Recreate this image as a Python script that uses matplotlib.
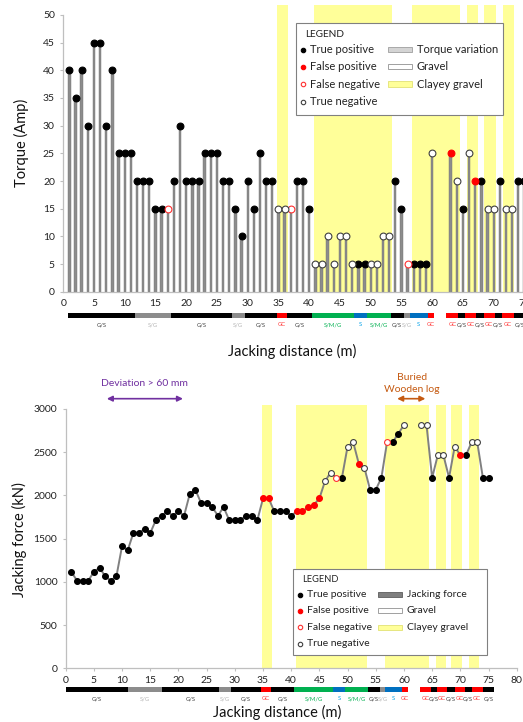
import numpy as np
import matplotlib
matplotlib.use('Agg')
import matplotlib.pyplot as plt
from matplotlib.lines import Line2D
from matplotlib.patches import Rectangle

plt.rcParams['font.family'] = ['Lato', 'DejaVu Sans']

W, H = 523, 722

# ---- data ----
dist_x = list(range(1, 61)) + list(range(63, 76))

torque = [40, 35, 40, 30, 45, 45, 30, 40, 25, 25,
          25, 20, 20, 20, 15, 15, 15, 20, 30, 20,
          20, 20, 25, 25, 25, 20, 20, 15, 10, 20,
          15, 25, 20, 20, 15, 15, 15, 20, 20, 15,
          5, 5, 10, 5, 10, 10, 5, 5, 5, 5,
          5, 10, 10, 20, 15, 5, 5, 5, 5, 25,
          25, 20, 15, 25, 20, 20, 15, 15, 20, 15,
          15, 20, 20]
# T = true positive, F = false positive, N = false negative, W = true negative
torque_cls = ("TTTTTTTTTT" "TTTTTTNTTT" "TTTTTTTTTT" "TTTTWWNTTT"
              "WWWWWWWTTW" "WWWTTNTTTW" "FWTWFTWWTW" "WTT")

force = [1115, 1015, 1015, 1015, 1115, 1165, 1065, 1015, 1065, 1415,
         1365, 1565, 1565, 1615, 1565, 1715, 1765, 1815, 1765, 1815,
         1765, 2015, 2065, 1915, 1915, 1865, 1765, 1865, 1715, 1715,
         1715, 1765, 1765, 1715, 1965, 1965, 1815, 1815, 1815, 1765,
         1815, 1815, 1865, 1890, 1965, 2165, 2265, 2205, 2205, 2565,
         2615, 2365, 2315, 2065, 2065, 2205, 2615, 2615, 2715, 2815,
         2815, 2815, 2205, 2465, 2465, 2205, 2565, 2465, 2465, 2615,
         2615, 2205, 2205]
force_cls = ("TTTTTTTTTT" "TTTTTTTTTT" "TTTTTTTTTT" "TTTTFFTTTT"
             "FFFFFWWNTW" "WFWTTTNTTW" "WWTWWTWFTW" "WTT")

clay_start = [34.8, 40.8, 56.7, 65.6, 68.4, 71.5]
clay_end = [36.6, 53.4, 64.5, 67.4, 70.3, 73.3]

soil_type = ['G/S', 'S/G', 'G/S', 'S/G', 'G/S', 'GC', 'G/S', 'S/M/G', 'S', 'S/M/G',
             'G/S', 'S/G', 'S', 'GC', 'GC', 'G/S', 'GC', 'G/S', 'GC', 'G/S', 'GC', 'G/S']
soil_start = [0, 11.0, 17.05, 27.2, 29.3, 34.6, 36.4, 40.55, 47.5, 49.6,
              53.6, 55.7, 56.7, 59.7, 62.8, 64.8, 65.9, 67.7, 69.0, 70.8, 72.0, 74.0]
soil_end = [11.0, 17.05, 27.2, 29.3, 34.6, 36.4, 40.55, 47.5, 49.6, 53.6,
            55.7, 56.7, 59.7, 60.7, 64.8, 65.9, 67.7, 69.0, 70.8, 72.0, 74.0, 75.95]

soil_bar_col = {'G/S': '#000000', 'S/G': '#8c8c8c', 'GC': '#ff0000',
                'S/M/G': '#00b050', 'S': '#0070c0'}
soil_txt_col = {'G/S': '#404040', 'S/G': '#b4b4b4', 'GC': '#ff3b3b',
                'S/M/G': '#00b050', 'S': '#00a0e8'}

YELLOW = '#ffff99'
marker_style = {
    'T': dict(markerfacecolor='black', markeredgecolor='black'),
    'F': dict(markerfacecolor='#ff0000', markeredgecolor='#ff0000'),
    'N': dict(markerfacecolor='white', markeredgecolor='#ff3030'),
    'W': dict(markerfacecolor='white', markeredgecolor='#404040'),
}
legend_names = [('T', 'True positive'), ('F', 'False positive'),
                ('N', 'False negative'), ('W', 'True negative')]


def box(left, top, right, bottom):
    # pixel box -> figure fraction rect
    return [left / W, 1 - bottom / H, (right - left) / W, (bottom - top) / H]


def fx(x):
    return x / W


def fy(y):
    return 1 - y / H


def style_axis(ax):
    for s in ['top', 'right']:
        ax.spines[s].set_visible(False)
    for s in ['left', 'bottom']:
        ax.spines[s].set_color('#bfbfbf')
        ax.spines[s].set_linewidth(0.9)
    ax.tick_params(colors='#bfbfbf', labelcolor='#222222', labelsize=7.5,
                   length=2.5, width=0.8)


def draw_scatter(ax, xs, ys, cls, ms):
    for c in 'TFNW':
        px = [x for x, k in zip(xs, cls) if k == c]
        py = [y for y, k in zip(ys, cls) if k == c]
        ax.plot(px, py, 'o', ms=ms, mew=0.8, ls='none', zorder=4, clip_on=False,
                **marker_style[c])


def draw_strip(fig, left_px, px_per_m, top_px):
    sax = fig.add_axes(box(left_px, top_px, left_px + 80 * px_per_m, top_px + 18))
    sax.set_xlim(0, 80)
    sax.set_ylim(18, 0)
    sax.axis('off')
    for t, a, b in zip(soil_type, soil_start, soil_end):
        sax.add_patch(Rectangle((a, 0.5), b - a, 5, color=soil_bar_col[t], lw=0))
        sax.text((a + b) / 2, 12.5, t, color=soil_txt_col[t], fontsize=4.2,
                 ha='center', va='center')


def draw_legend(fig, rect, mx, rows_y, px0, px1, patches, fs):
    l, t, r, b = rect
    fig.add_artist(Rectangle((fx(l), fy(b)), fx(r - l), (b - t) / H,
                             transform=fig.transFigure, facecolor='white',
                             edgecolor='#808080', lw=0.8, zorder=10))
    fig.text(fx(mx + 2), fy(rows_y[0] - 15), 'LEGEND', fontsize=fs - 0.8,
             va='center', color='#222222', zorder=11)
    for (c, name), y in zip(legend_names, rows_y):
        fig.add_artist(Line2D([fx(mx)], [fy(y)], transform=fig.transFigure, marker='o',
                              ms=3.2, mew=0.8, zorder=11, **marker_style[c]))
        fig.text(fx(mx + 7), fy(y), name, fontsize=fs, va='center',
                 color='#222222', zorder=11)
    for (name, fc, ec), y in zip(patches, rows_y):
        fig.add_artist(Rectangle((fx(px0), fy(y + 2.5)), fx(px1 - px0), 5 / H,
                                 transform=fig.transFigure, facecolor=fc,
                                 edgecolor=ec, lw=0.7, zorder=11))
        fig.text(fx(px1 + 5), fy(y), name, fontsize=fs, va='center',
                 color='#222222', zorder=11)


fig = plt.figure(figsize=(W / 100, H / 100), dpi=100)

# ---- top: torque ----
top_px = 6.15
ax1 = fig.add_axes(box(63.2, 5, 63.2 + 80 * top_px, 291.7))
ax1.set_xlim(0, 80)
ax1.set_ylim(0, 51.8)
for a, b in zip(clay_start, clay_end):
    ax1.axvspan(a, b, color=YELLOW, lw=0, zorder=0)
ax1.bar(dist_x, torque, width=0.38, color='#8c8c8c', edgecolor='#707070',
        lw=0.3, zorder=2)
draw_scatter(ax1, dist_x, torque, torque_cls, 4.9)
style_axis(ax1)
ax1.spines['left'].set_bounds(0, 50)
ax1.set_yticks(np.arange(0, 51, 5))
ax1.set_xticks(np.arange(0, 81, 5))
ax1.tick_params(axis='x', length=0, pad=5)

draw_strip(fig, 68.3, 6.02, 312.2)
fig.text(fx(292), fy(351.5), 'Jacking distance (m)', fontsize=10.5,
         ha='center', va='center', color='#111111')
fig.text(fx(21), fy(143), 'Torque (Amp)', fontsize=10.5, rotation=90,
         ha='center', va='center', color='#111111')

draw_legend(fig, (296, 22.7, 503.3, 115), 303.3, [49.7, 66.7, 84, 101.5],
            388.3, 411.7,
            [('Torque variation', '#d4d4d4', '#a8a8a8'),
             ('Gravel', 'white', '#a0a0a0'),
             ('Clayey gravel', YELLOW, '#e6e680')], 8)

# ---- bottom: jacking force ----
bot_px = 5.6375
ax2 = fig.add_axes(box(65.7, 405, 65.7 + 80 * bot_px, 668.3))
ax2.set_xlim(0, 80)
ax2.set_ylim(0, 3046)
for a, b in zip(clay_start, clay_end):
    ax2.axvspan(a, b, color=YELLOW, lw=0, zorder=0)

# line pieces, broken where distances are missing
xs = np.array(dist_x)
ys = np.array(force)
breaks = np.where(np.diff(xs) > 1)[0] + 1
for px_, py_ in zip(np.split(xs, breaks), np.split(ys, breaks)):
    ax2.plot(px_, py_, color='#808080', lw=1.4, zorder=3)
draw_scatter(ax2, dist_x, force, force_cls, 4.2)
style_axis(ax2)
ax2.spines['left'].set_bounds(0, 3000)
ax2.set_yticks(np.arange(0, 3001, 500))
ax2.set_xticks(np.arange(0, 81, 5))
ax2.tick_params(axis='x', pad=3)

ax2.annotate('', xy=(20.8, 3119), xytext=(7.3, 3119), annotation_clip=False,
             arrowprops=dict(arrowstyle='<|-|>', color='#7030a0', lw=1.2,
                             mutation_scale=8, shrinkA=0, shrinkB=0))
ax2.text(13.9, 3293, 'Deviation > 60 mm', color='#7030a0', fontsize=7.5,
         ha='center', va='center', clip_on=False)
ax2.annotate('', xy=(63.8, 3119), xytext=(58.8, 3119), annotation_clip=False,
             arrowprops=dict(arrowstyle='<|-|>', color='#c55a11', lw=1.2,
                             mutation_scale=8, shrinkA=0, shrinkB=0))
ax2.text(61.4, 3295, 'Buried\nWooden log', color='#c55a11', fontsize=7.5,
         ha='center', va='center', linespacing=1.35, clip_on=False)

draw_strip(fig, 65.7, bot_px, 686.2)
fig.text(fx(277), fy(712.5), 'Jacking distance (m)', fontsize=10.5,
         ha='center', va='center', color='#111111')
fig.text(fx(19.5), fy(540), 'Jacking force (kN)', fontsize=10.5, rotation=90,
         ha='center', va='center', color='#111111')

draw_legend(fig, (293.3, 568.7, 486.7, 655), 300, [594.7, 610.7, 627, 643.7],
            378.3, 401.7,
            [('Jacking force', '#7f7f7f', '#6a6a6a'),
             ('Gravel', 'white', '#a0a0a0'),
             ('Clayey gravel', YELLOW, '#e6e680')], 7.5)

fig.savefig('out.png', dpi=100)
